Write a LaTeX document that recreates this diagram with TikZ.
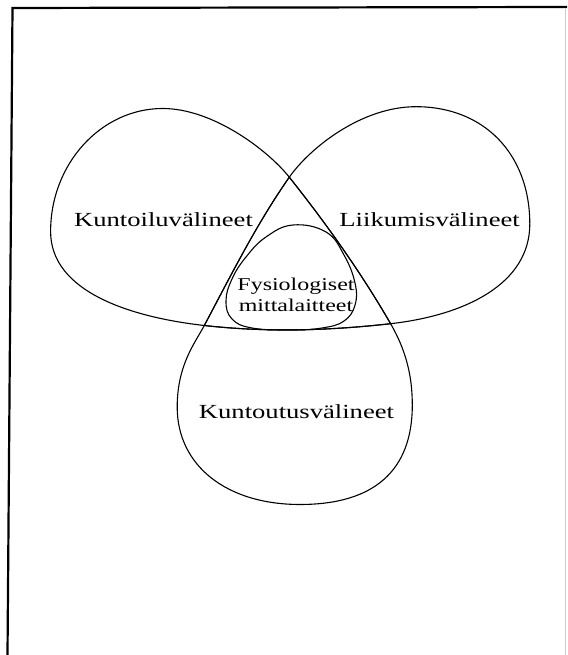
\documentclass[tikz,border=0pt]{standalone}
\usepackage{fontspec}
\setmainfont{Liberation Serif}
\tikzset{
  lobe/.style={line width=1.1pt, line join=round},
  lbl/.style={font=\fontsize{20}{22}\selectfont, xscale=1.33, align=center},
  small/.style={lbl, font=\fontsize{18}{21.6}\selectfont},
  frame/.style={line width=2.2pt}
}
\begin{document}
\begin{tikzpicture}[x=1pt, y=1pt]
  \useasboundingbox (0,0) rectangle (567,655);
  % frame of the page
  \draw[frame] (7.5,0) -- (12.5,647) -- (567,648);
  \draw[gray!40, line width=0.8pt] (565,646) -- (565,0);
  % corners of the middle triangle
  \coordinate (top) at (289.3,477.8);
  \coordinate (bl) at (204.3,329.5);
  \coordinate (br) at (390.6,331.3);
  % left loop, tip at br
  \draw[lobe] (br) .. controls (361.1,382.4) and (325.9,431.8) .. (top)
    .. controls (267.6,505.1) and (212.7,546.5) .. (162.7,546.5)
    .. controls (101.1,546.5) and (50.6,491.2) .. (50.6,423.5)
    .. controls (50.6,363.5) and (129.8,337.9) .. (bl)
    .. controls (266.3,322.5) and (328.6,324.3) .. (br) -- cycle;
  % right loop, tip at bl
  \draw[lobe] (bl) .. controls (231,379.8) and (256.6,431.1) .. (top)
    .. controls (309.4,506.5) and (361,548.3) .. (416,548.3)
    .. controls (484,548.3) and (529.8,501) .. (529.8,431)
    .. controls (529.8,371) and (465.1,339.7) .. (br)
    .. controls (328.6,324.3) and (266.3,322.5) .. (bl) -- cycle;
  % lower loop, tip at top
  \draw[lobe] (top) .. controls (325.9,431.8) and (361.1,382.4) .. (br)
    .. controls (405.6,305.3) and (412.3,280) .. (412.3,250)
    .. controls (412.3,184.3) and (374.1,150.5) .. (300,150.5)
    .. controls (226.3,150.5) and (177.2,189.5) .. (177.2,248)
    .. controls (177.2,290) and (194.9,311.8) .. (bl)
    .. controls (231,379.8) and (256.6,431.1) .. (top) -- cycle;
  % small loop in the middle
  \draw[lobe] plot[smooth cycle, tension=0.7] coordinates {
    (293,430) (266,418) (246,398) (232,376) (226,354) (232,336) (252,327)
    (290,325) (322,327) (344,334) (355,350) (355,372) (344,400) (326,423)};
  % labels
  \node[lbl] (kuntoilu) at (163.5,435) {Kuntoiluvälineet};
  \node[lbl] (liikunta) at (429.6,435) {Liikumisvälineet};
  \node[small] (mittari) at (296,360) {Fysiologiset\\mittalaitteet};
  \node[lbl] (kuntoutus) at (296.5,243) {Kuntoutusvälineet};
\end{tikzpicture}
\end{document}
